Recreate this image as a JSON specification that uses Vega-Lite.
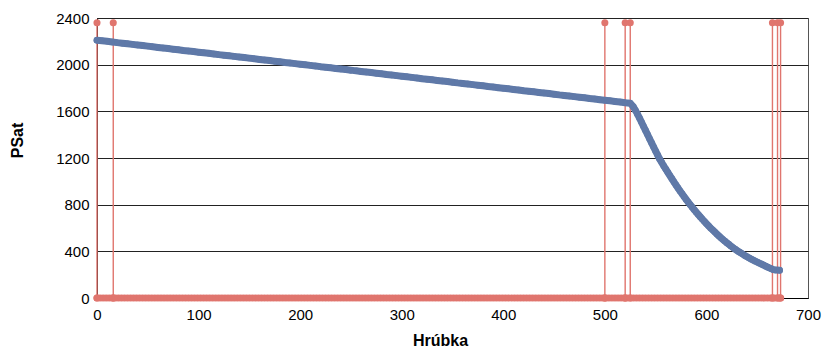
{
  "$schema": "https://vega.github.io/schema/vega-lite/v6.json",
  "width": 711,
  "height": 280,
  "autosize": {"type": "none"},
  "padding": {"left": 97, "top": 18, "right": 15, "bottom": 50},
  "background": "white",
  "config": {
    "view": {"stroke": "#555", "strokeWidth": 1},
    "font": "Liberation Sans"
  },
  "datasets": {
    "red": [
      {"x":0,"y":0},{"x":0,"y":2360},{"x":0,"y":0},{"x":3,"y":0},{"x":6,"y":0},{"x":9,"y":0},{"x":12,"y":0},{"x":15,"y":0},
      {"x":16,"y":0},{"x":16,"y":2360},{"x":16,"y":0},
      {"x":18,"y":0},{"x":21,"y":0},{"x":24,"y":0},{"x":27,"y":0},{"x":30,"y":0},{"x":33,"y":0},{"x":36,"y":0},{"x":39,"y":0},{"x":42,"y":0},{"x":45,"y":0},{"x":48,"y":0},
      {"x":51,"y":0},{"x":54,"y":0},{"x":57,"y":0},{"x":60,"y":0},{"x":63,"y":0},{"x":66,"y":0},{"x":69,"y":0},{"x":72,"y":0},{"x":75,"y":0},{"x":78,"y":0},
      {"x":81,"y":0},{"x":84,"y":0},{"x":87,"y":0},{"x":90,"y":0},{"x":93,"y":0},{"x":96,"y":0},{"x":99,"y":0},{"x":102,"y":0},{"x":105,"y":0},{"x":108,"y":0},
      {"x":111,"y":0},{"x":114,"y":0},{"x":117,"y":0},{"x":120,"y":0},{"x":123,"y":0},{"x":126,"y":0},{"x":129,"y":0},{"x":132,"y":0},{"x":135,"y":0},{"x":138,"y":0},
      {"x":141,"y":0},{"x":144,"y":0},{"x":147,"y":0},{"x":150,"y":0},{"x":153,"y":0},{"x":156,"y":0},{"x":159,"y":0},{"x":162,"y":0},{"x":165,"y":0},{"x":168,"y":0},
      {"x":171,"y":0},{"x":174,"y":0},{"x":177,"y":0},{"x":180,"y":0},{"x":183,"y":0},{"x":186,"y":0},{"x":189,"y":0},{"x":192,"y":0},{"x":195,"y":0},{"x":198,"y":0},
      {"x":201,"y":0},{"x":204,"y":0},{"x":207,"y":0},{"x":210,"y":0},{"x":213,"y":0},{"x":216,"y":0},{"x":219,"y":0},{"x":222,"y":0},{"x":225,"y":0},{"x":228,"y":0},
      {"x":231,"y":0},{"x":234,"y":0},{"x":237,"y":0},{"x":240,"y":0},{"x":243,"y":0},{"x":246,"y":0},{"x":249,"y":0},{"x":252,"y":0},{"x":255,"y":0},{"x":258,"y":0},
      {"x":261,"y":0},{"x":264,"y":0},{"x":267,"y":0},{"x":270,"y":0},{"x":273,"y":0},{"x":276,"y":0},{"x":279,"y":0},{"x":282,"y":0},{"x":285,"y":0},{"x":288,"y":0},
      {"x":291,"y":0},{"x":294,"y":0},{"x":297,"y":0},{"x":300,"y":0},{"x":303,"y":0},{"x":306,"y":0},{"x":309,"y":0},{"x":312,"y":0},{"x":315,"y":0},{"x":318,"y":0},
      {"x":321,"y":0},{"x":324,"y":0},{"x":327,"y":0},{"x":330,"y":0},{"x":333,"y":0},{"x":336,"y":0},{"x":339,"y":0},{"x":342,"y":0},{"x":345,"y":0},{"x":348,"y":0},
      {"x":351,"y":0},{"x":354,"y":0},{"x":357,"y":0},{"x":360,"y":0},{"x":363,"y":0},{"x":366,"y":0},{"x":369,"y":0},{"x":372,"y":0},{"x":375,"y":0},{"x":378,"y":0},
      {"x":381,"y":0},{"x":384,"y":0},{"x":387,"y":0},{"x":390,"y":0},{"x":393,"y":0},{"x":396,"y":0},{"x":399,"y":0},{"x":402,"y":0},{"x":405,"y":0},{"x":408,"y":0},
      {"x":411,"y":0},{"x":414,"y":0},{"x":417,"y":0},{"x":420,"y":0},{"x":423,"y":0},{"x":426,"y":0},{"x":429,"y":0},{"x":432,"y":0},{"x":435,"y":0},{"x":438,"y":0},
      {"x":441,"y":0},{"x":444,"y":0},{"x":447,"y":0},{"x":450,"y":0},{"x":453,"y":0},{"x":456,"y":0},{"x":459,"y":0},{"x":462,"y":0},{"x":465,"y":0},{"x":468,"y":0},
      {"x":471,"y":0},{"x":474,"y":0},{"x":477,"y":0},{"x":480,"y":0},{"x":483,"y":0},{"x":486,"y":0},{"x":489,"y":0},{"x":492,"y":0},{"x":495,"y":0},{"x":498,"y":0},
      {"x":500,"y":0},{"x":500,"y":2360},{"x":500,"y":0},
      {"x":501,"y":0},{"x":504,"y":0},{"x":507,"y":0},{"x":510,"y":0},{"x":513,"y":0},{"x":516,"y":0},{"x":519,"y":0},
      {"x":520,"y":0},{"x":520,"y":2360},{"x":520,"y":0},
      {"x":522,"y":0},
      {"x":525,"y":0},{"x":525,"y":2360},{"x":525,"y":0},
      {"x":528,"y":0},{"x":531,"y":0},{"x":534,"y":0},{"x":537,"y":0},{"x":540,"y":0},{"x":543,"y":0},{"x":546,"y":0},{"x":549,"y":0},{"x":552,"y":0},{"x":555,"y":0},
      {"x":558,"y":0},{"x":561,"y":0},{"x":564,"y":0},{"x":567,"y":0},{"x":570,"y":0},{"x":573,"y":0},{"x":576,"y":0},{"x":579,"y":0},{"x":582,"y":0},{"x":585,"y":0},
      {"x":588,"y":0},{"x":591,"y":0},{"x":594,"y":0},{"x":597,"y":0},{"x":600,"y":0},{"x":603,"y":0},{"x":606,"y":0},{"x":609,"y":0},{"x":612,"y":0},{"x":615,"y":0},
      {"x":618,"y":0},{"x":621,"y":0},{"x":624,"y":0},{"x":627,"y":0},{"x":630,"y":0},{"x":633,"y":0},{"x":636,"y":0},{"x":639,"y":0},{"x":642,"y":0},{"x":645,"y":0},
      {"x":648,"y":0},{"x":651,"y":0},{"x":654,"y":0},{"x":657,"y":0},{"x":660,"y":0},{"x":663,"y":0},
      {"x":665,"y":0},{"x":665,"y":2360},{"x":665,"y":0},
      {"x":667,"y":0},
      {"x":670,"y":0},{"x":670,"y":2360},{"x":670,"y":0},
      {"x":672,"y":0},
      {"x":673,"y":0},{"x":673,"y":2360},{"x":673,"y":0}
    ],
    "blue": [
      {"x":0,"y":2210},{"x":5,"y":2205},{"x":10,"y":2200},{"x":15,"y":2195},{"x":20,"y":2189},{"x":25,"y":2184},{"x":30,"y":2179},{"x":35,"y":2174},{"x":40,"y":2169},{"x":45,"y":2164},
      {"x":50,"y":2159},{"x":55,"y":2153},{"x":60,"y":2148},{"x":65,"y":2143},{"x":70,"y":2138},{"x":75,"y":2133},{"x":80,"y":2128},{"x":85,"y":2122},{"x":90,"y":2117},{"x":95,"y":2112},
      {"x":100,"y":2107},{"x":105,"y":2102},{"x":110,"y":2097},{"x":115,"y":2092},{"x":120,"y":2086},{"x":125,"y":2081},{"x":130,"y":2076},{"x":135,"y":2071},{"x":140,"y":2066},{"x":145,"y":2061},
      {"x":150,"y":2056},{"x":155,"y":2050},{"x":160,"y":2045},{"x":165,"y":2040},{"x":170,"y":2035},{"x":175,"y":2030},{"x":180,"y":2025},{"x":185,"y":2019},{"x":190,"y":2014},{"x":195,"y":2009},
      {"x":200,"y":2004},{"x":205,"y":1999},{"x":210,"y":1994},{"x":215,"y":1989},{"x":220,"y":1983},{"x":225,"y":1978},{"x":230,"y":1973},{"x":235,"y":1968},{"x":240,"y":1963},{"x":245,"y":1958},
      {"x":250,"y":1953},{"x":255,"y":1947},{"x":260,"y":1942},{"x":265,"y":1937},{"x":270,"y":1932},{"x":275,"y":1927},{"x":280,"y":1922},{"x":285,"y":1916},{"x":290,"y":1911},{"x":295,"y":1906},
      {"x":300,"y":1901},{"x":305,"y":1896},{"x":310,"y":1891},{"x":315,"y":1886},{"x":320,"y":1880},{"x":325,"y":1875},{"x":330,"y":1870},{"x":335,"y":1865},{"x":340,"y":1860},{"x":345,"y":1855},
      {"x":350,"y":1850},{"x":355,"y":1844},{"x":360,"y":1839},{"x":365,"y":1834},{"x":370,"y":1829},{"x":375,"y":1824},{"x":380,"y":1819},{"x":385,"y":1813},{"x":390,"y":1808},{"x":395,"y":1803},
      {"x":400,"y":1798},{"x":405,"y":1793},{"x":410,"y":1788},{"x":415,"y":1783},{"x":420,"y":1777},{"x":425,"y":1772},{"x":430,"y":1767},{"x":435,"y":1762},{"x":440,"y":1757},{"x":445,"y":1752},
      {"x":450,"y":1747},{"x":455,"y":1741},{"x":460,"y":1736},{"x":465,"y":1731},{"x":470,"y":1726},{"x":475,"y":1721},{"x":480,"y":1716},{"x":485,"y":1710},{"x":490,"y":1705},{"x":495,"y":1700},
      {"x":500,"y":1695},{"x":505,"y":1690},{"x":510,"y":1685},{"x":515,"y":1680},{"x":520,"y":1674},{"x":525,"y":1669},
      {"x":528,"y":1640},{"x":530,"y":1610},{"x":532,"y":1578},{"x":534,"y":1544},{"x":536,"y":1508},{"x":538,"y":1472},{"x":540,"y":1437},{"x":542,"y":1401},{"x":544,"y":1365},{"x":546,"y":1330},
      {"x":548,"y":1294},{"x":550,"y":1259},{"x":552,"y":1225},{"x":554,"y":1190},{"x":556,"y":1161},{"x":558,"y":1132},{"x":560,"y":1104},{"x":562,"y":1076},{"x":564,"y":1049},{"x":566,"y":1022},
      {"x":568,"y":995},{"x":570,"y":969},{"x":572,"y":943},{"x":574,"y":918},{"x":576,"y":893},{"x":578,"y":869},{"x":580,"y":845},{"x":582,"y":822},{"x":584,"y":800},{"x":586,"y":778},
      {"x":588,"y":756},{"x":590,"y":735},{"x":592,"y":715},{"x":594,"y":695},{"x":596,"y":675},{"x":598,"y":656},{"x":600,"y":637},{"x":602,"y":619},{"x":604,"y":601},{"x":606,"y":584},
      {"x":608,"y":567},{"x":610,"y":550},{"x":612,"y":534},{"x":614,"y":518},{"x":616,"y":503},{"x":618,"y":488},{"x":620,"y":474},{"x":622,"y":460},{"x":624,"y":446},{"x":626,"y":433},
      {"x":628,"y":420},{"x":630,"y":408},{"x":632,"y":396},{"x":634,"y":385},{"x":636,"y":374},{"x":638,"y":363},{"x":640,"y":353},{"x":642,"y":343},{"x":644,"y":334},{"x":646,"y":325},
      {"x":648,"y":316},{"x":650,"y":308},{"x":652,"y":299},{"x":654,"y":291},{"x":656,"y":283},{"x":658,"y":274},{"x":660,"y":266},{"x":662,"y":258},{"x":664,"y":250},{"x":666,"y":243},
      {"x":668,"y":240},{"x":670,"y":239},{"x":672,"y":238}
    ]
  },
  "layer": [
    {
      "data": {"name": "red"},
      "mark": {"type": "line", "color": "#e0756e", "strokeWidth": 1.4, "clip": false,
               "point": {"filled": true, "size": 50, "color": "#e0756e", "opacity": 1}},
      "encoding": {
        "x": {"field": "x", "type": "quantitative", "scale": {"domain": [0, 700], "nice": false},
              "axis": {"values": [0,100,200,300,400,500,600,700], "format": "d", "grid": false, "ticks": false, "labelFlush": false, "labelOverlap": false,
                       "labelFont": "Liberation Sans", "labelFontSize": 15, "labelColor": "#000",
                       "title": "Hrúbka", "titleFont": "Liberation Sans", "titleFontSize": 16, "titleFontWeight": "bold", "titleColor": "#000",
                       "domainColor": "#000", "domainWidth": 1, "labelPadding": 9, "titleX": 343, "titleY": 42, "titleBaseline": "middle", "titleAlign": "center"}},
        "y": {"field": "y", "type": "quantitative", "scale": {"domain": [0, 2400], "nice": false},
              "axis": {"values": [0,400,800,1200,1600,2000,2400], "format": "d", "grid": true, "gridColor": "#222", "gridWidth": 1, "gridOpacity": 1, "ticks": false, "labelFlush": false, "labelOverlap": false,
                       "labelFont": "Liberation Sans", "labelFontSize": 15, "labelColor": "#000",
                       "title": "PSat", "titleFont": "Liberation Sans", "titleFontSize": 16, "titleFontWeight": "bold", "titleColor": "#000",
                       "domainColor": "#000", "labelPadding": 8,
                       "titleX": -80, "titleY": 122, "titleAlign": "center", "titleBaseline": "middle", "titleAngle": -90}},
        "order": {"value": null}
      }
    },
    {
      "data": {"name": "blue"},
      "mark": {"type": "line", "color": "#5f79a8", "strokeWidth": 7, "strokeCap": "round", "strokeJoin": "round", "clip": false,
               "point": {"filled": true, "size": 42, "color": "#5f79a8", "opacity": 1}},
      "encoding": {
        "x": {"field": "x", "type": "quantitative"},
        "y": {"field": "y", "type": "quantitative"}
      }
    }
  ]
}
